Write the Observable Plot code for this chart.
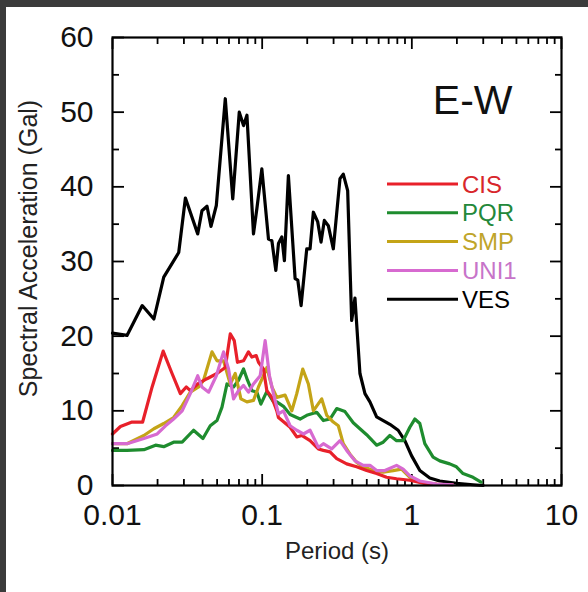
<!DOCTYPE html>
<html>
<head>
<meta charset="utf-8">
<script src="https://cdn.jsdelivr.net/npm/d3@7"></script>
<script src="https://cdn.jsdelivr.net/npm/@observablehq/plot@0.6"></script>
<style>
  html, body { margin: 0; padding: 0; background: #3b3b3b; width: 588px; height: 592px; overflow: hidden; }
  #chart { position: absolute; left: 6px; top: 7px; width: 582px; height: 585px; background: #fff; }
  #chart svg { display: block; }
</style>
</head>
<body>
<div id="chart"></div>
<script>
// ---- data (period in s, spectral acceleration in Gal) ----
const stations = ["CIS", "PQR", "SMP", "UNI1", "VES"];
const lineColors = ["#e8202a", "#1e8c2e", "#c4a417", "#d76ad0", "#000000"];
const labelColors = ["#d8262b", "#23883a", "#bfa52a", "#c774c9", "#000000"];

const vesT  = [0.01, 0.0125, 0.0158, 0.0189, 0.022, 0.0277, 0.0307, 0.0371, 0.0396, 0.0428, 0.0455, 0.0494, 0.0567, 0.0636, 0.0703, 0.0751, 0.0791, 0.0875, 0.0922, 0.0995, 0.1102, 0.1161, 0.1234, 0.1285, 0.1353, 0.1408, 0.1497, 0.166, 0.173, 0.182, 0.1986, 0.2089, 0.2198, 0.2351, 0.2474, 0.2602, 0.2767, 0.2988, 0.3311, 0.3483, 0.3726, 0.3963, 0.4169, 0.4501, 0.4862, 0.5248, 0.5817, 0.7135, 0.8103, 0.898, 0.995, 1.131, 1.318, 1.537, 1.986, 2.563, 3.0];
const vesSA = [20.4, 20.1, 24.1, 22.3, 27.9, 31.2, 38.5, 33.7, 36.8, 37.4, 34.7, 37.5, 51.8, 38.4, 50.0, 48.2, 49.6, 33.7, 37.1, 42.4, 33.0, 32.8, 28.8, 32.4, 33.3, 30.1, 41.5, 27.7, 27.5, 24.1, 31.7, 31.7, 36.6, 35.3, 32.6, 35.5, 34.8, 31.7, 41.1, 41.7, 39.5, 22.1, 25.1, 15.0, 12.3, 11.2, 9.2, 8.2, 7.4, 6.0, 4.0, 2.0, 1.0, 0.6, 0.3, 0.1, 0.0];

const cisT  = [0.01, 0.0113, 0.0135, 0.0159, 0.0184, 0.0218, 0.025, 0.0284, 0.0311, 0.0331, 0.0371, 0.0428, 0.0499, 0.0567, 0.0612, 0.0651, 0.0684, 0.0751, 0.081, 0.0854, 0.0912, 0.0945, 0.102, 0.1075, 0.1161, 0.1253, 0.1285, 0.1537, 0.1703, 0.1839, 0.2089, 0.2373, 0.2563, 0.284, 0.3148, 0.367, 0.4278, 0.4989, 0.5817, 0.678, 0.7907, 0.9698, 1.253, 1.877];
const cisSA = [6.9, 7.9, 8.5, 8.5, 13.2, 18.0, 15.0, 12.3, 13.2, 12.7, 13.6, 14.3, 15.0, 15.8, 20.3, 19.4, 16.5, 16.7, 17.9, 17.2, 17.4, 16.5, 15.6, 12.7, 11.8, 10.0, 9.1, 7.8, 6.5, 6.7, 6.0, 4.9, 4.7, 4.5, 3.6, 2.9, 2.5, 2.0, 1.6, 1.1, 0.9, 0.7, 0.2, 0.1];

const pqrT  = [0.01, 0.0125, 0.0162, 0.0194, 0.022, 0.0256, 0.0292, 0.0348, 0.0402, 0.045, 0.0499, 0.0539, 0.0582, 0.0644, 0.0695, 0.0751, 0.0798, 0.0854, 0.0922, 0.098, 0.1075, 0.119, 0.1253, 0.1387, 0.1537, 0.1792, 0.1986, 0.2315, 0.2563, 0.284, 0.3148, 0.3575, 0.4061, 0.4385, 0.4989, 0.5817, 0.6437, 0.7135, 0.7907, 0.875, 0.9698, 1.047, 1.131, 1.221, 1.387, 1.537, 1.792, 1.986, 2.198, 2.563, 2.9];
const pqrSA = [4.7, 4.7, 4.8, 5.4, 5.2, 5.8, 5.8, 7.4, 6.3, 8.0, 8.7, 10.5, 13.6, 13.2, 14.1, 15.6, 14.1, 12.7, 12.5, 10.9, 12.6, 11.2, 11.2, 10.6, 9.5, 8.9, 9.4, 9.8, 8.7, 8.9, 10.3, 9.9, 8.4, 7.8, 6.8, 5.4, 5.8, 6.7, 6.0, 6.0, 7.8, 8.9, 8.3, 5.6, 3.8, 3.3, 2.9, 2.5, 1.6, 1.1, 0.45];

const smpT  = [0.01, 0.0125, 0.0162, 0.0189, 0.022, 0.0256, 0.0292, 0.0331, 0.0376, 0.0406, 0.0462, 0.0499, 0.0552, 0.0612, 0.0661, 0.0721, 0.0791, 0.0875, 0.0945, 0.102, 0.1075, 0.1161, 0.1253, 0.1423, 0.1578, 0.1703, 0.1867, 0.2036, 0.2198, 0.25, 0.27, 0.2988, 0.3227, 0.3483, 0.3862, 0.4278, 0.4735, 0.5521, 0.6437, 0.7505, 0.8536, 0.9698, 1.131, 1.461];
const smpSA = [5.6, 5.6, 6.7, 7.6, 8.3, 9.1, 10.7, 12.5, 13.2, 14.1, 17.9, 16.7, 16.7, 13.6, 15.0, 11.6, 11.2, 11.4, 13.2, 14.7, 15.8, 13.2, 11.8, 12.1, 10.0, 12.3, 15.6, 13.6, 10.0, 11.6, 9.4, 8.5, 8.0, 5.6, 4.2, 3.1, 2.5, 2.0, 1.8, 2.0, 2.2, 1.1, 0.45, 0.2];

const uniT  = [0.01, 0.0125, 0.0162, 0.0199, 0.0226, 0.0256, 0.0292, 0.0331, 0.0371, 0.0396, 0.0439, 0.0494, 0.0552, 0.0596, 0.0644, 0.0695, 0.0751, 0.081, 0.0875, 0.097, 0.1047, 0.1119, 0.119, 0.1285, 0.1387, 0.1537, 0.1703, 0.1885, 0.2089, 0.2373, 0.2563, 0.2915, 0.3311, 0.367, 0.4169, 0.4735, 0.5248, 0.5817, 0.6607, 0.7907, 0.875, 0.9698, 1.131, 1.461, 1.877];
const uniSA = [5.6, 5.6, 6.3, 6.9, 8.0, 8.9, 10.0, 12.3, 14.7, 13.2, 12.5, 14.7, 17.9, 15.6, 11.6, 12.7, 13.4, 12.5, 13.6, 14.7, 19.4, 14.7, 12.3, 9.6, 10.0, 8.0, 7.4, 6.9, 7.4, 5.1, 5.6, 4.9, 6.0, 4.7, 3.3, 2.7, 2.7, 2.0, 2.0, 2.7, 2.2, 1.3, 0.6, 0.2, 0.1];

const xMajorTicks = [0.01, 0.1, 1, 10];
const xMinorTicks = [0.01, 0.1, 1].flatMap(d => [2, 3, 4, 5, 6, 7, 8, 9].map(k => +(d * k).toPrecision(3)));
const yMajorTicks = [0, 10, 20, 30, 40, 50, 60];
const yMinorTicks = [5, 15, 25, 35, 45, 55];

const panelLabel = "E-W";
const xTitle = "Period (s)";
const yTitle = "Spectral Acceleration (Gal)";

// ---- build table ----
const series = {CIS: [cisT, cisSA], PQR: [pqrT, pqrSA], SMP: [smpT, smpSA], UNI1: [uniT, uniSA], VES: [vesT, vesSA]};
const rows = stations.flatMap(s => series[s][0].map((t, i) => ({station: s, T: t, SA: series[s][1][i]})));
const drawOrder = ["VES", "PQR", "SMP", "CIS", "UNI1"];

const W = 582, H = 585;
const font = "'Liberation Sans', Arial, Helvetica, sans-serif";

const chart = Plot.plot({
  width: W,
  height: H,
  marginLeft: 106,
  marginRight: 27,
  marginTop: 30,
  marginBottom: 107,
  style: {fontFamily: font, background: "white", overflow: "visible"},
  x: {type: "log", domain: [0.01, 10]},
  y: {domain: [0, 60]},
  marks: [
    // inward ticks
    Plot.axisX(xMajorTicks, {anchor: "bottom", tickSize: -11, tickFormat: () => "", strokeWidth: 1.8, label: null}),
    Plot.axisX(xMinorTicks, {anchor: "bottom", tickSize: -6, tickFormat: () => "", strokeWidth: 1.8, label: null}),
    Plot.axisX(xMajorTicks, {anchor: "top", tickSize: -11, tickFormat: () => "", strokeWidth: 1.8, label: null}),
    Plot.axisX(xMinorTicks, {anchor: "top", tickSize: -6, tickFormat: () => "", strokeWidth: 1.8, label: null}),
    Plot.axisY(yMajorTicks, {anchor: "left", tickSize: -12, tickFormat: () => "", strokeWidth: 1.8, label: null}),
    Plot.axisY(yMinorTicks, {anchor: "left", tickSize: -7, tickFormat: () => "", strokeWidth: 1.8, label: null}),
    Plot.axisY(yMajorTicks, {anchor: "right", tickSize: -12, tickFormat: () => "", strokeWidth: 1.8, label: null}),
    Plot.axisY(yMinorTicks, {anchor: "right", tickSize: -7, tickFormat: () => "", strokeWidth: 1.8, label: null}),
    // tick labels
    Plot.axisX(xMajorTicks, {anchor: "bottom", tickSize: 0, tickPadding: 18, fontSize: 30, fill: "#111", tickFormat: d => String(d), label: null}),
    Plot.axisY(yMajorTicks, {anchor: "left", tickSize: 0, tickPadding: 19, fontSize: 30, fill: "#111", tickFormat: d => String(d), label: null}),
    // curves
    ...drawOrder.map(s => Plot.line(rows.filter(r => r.station === s), {
      x: "T", y: "SA",
      stroke: lineColors[stations.indexOf(s)],
      strokeWidth: 3.2, strokeLinejoin: "round", strokeLinecap: "round"
    })),
    Plot.frame({stroke: "black", strokeWidth: 2.2}),
    // titles
    Plot.text([xTitle], {frameAnchor: "bottom", dy: 66, fontSize: 24, fill: "#222", lineAnchor: "middle"}),
    Plot.text([yTitle], {frameAnchor: "left", rotate: -90, dx: -84, dy: -13, fontSize: 25, fill: "#222", lineAnchor: "middle", textAnchor: "middle"}),
    Plot.text([panelLabel], {frameAnchor: "top-right", dx: -49, dy: 63, fontSize: 41, fill: "#111", textAnchor: "end", lineAnchor: "middle"})
  ]
});

// legend (inside the plot area, upper right)
const svg = d3.select(chart);
const leg = svg.append("g").attr("font-family", font).attr("font-size", 24).attr("text-anchor", "start");
stations.forEach((s, i) => {
  const y = 177 + i * 28.8;
  leg.append("line").attr("x1", 381).attr("x2", 452).attr("y1", y).attr("y2", y)
    .attr("stroke", lineColors[i]).attr("stroke-width", 3);
  leg.append("text").attr("x", 456).attr("y", y).attr("dy", "0.36em")
    .attr("text-anchor", "start").attr("fill", labelColors[i]).text(s);
});

document.getElementById("chart").appendChild(chart);
</script>
</body>
</html>
